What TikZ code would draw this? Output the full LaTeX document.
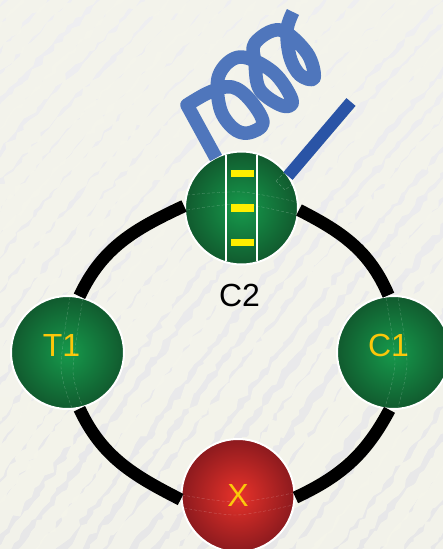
\documentclass[tikz,border=0pt]{standalone}
\usepackage{fontspec}
\setmainfont{Liberation Sans}
\usetikzlibrary{decorations.pathmorphing}
\definecolor{clothtop}{HTML}{EEEEF1}
\definecolor{clothlow}{HTML}{E7E7E8}
\definecolor{clothpale}{HTML}{F5F5EB}
\definecolor{coilblue}{HTML}{4F76BC}
\definecolor{rodblue}{HTML}{2A54A6}
\definecolor{ballgreen}{HTML}{169A4C}
\definecolor{rimgreen}{HTML}{115A2E}
\definecolor{ballred}{HTML}{E8322A}
\definecolor{rimred}{HTML}{8C1A1E}
\definecolor{labelyellow}{HTML}{FBC70A}
\definecolor{baryellow}{HTML}{FFEE00}
\tikzset{
  ball/.style={circle, draw=white, line width=2pt, minimum size=113pt, inner sep=0pt,
    inner color=ballgreen, outer color=rimgreen},
  redball/.style={ball, inner color=ballred, outer color=rimred},
  balltext/.style={text=labelyellow, font=\fontsize{32}{32}\selectfont},
  ringarc/.style={line width=12.5pt, black},
  seam/.style={white, opacity=.25, line width=.4pt, densely dashed},
  stripe/.style={white, line width=2pt},
  rung/.style={fill=baryellow, draw=none}
}
\begin{document}
\begin{tikzpicture}[x=1pt, y=-1pt]
\path[use as bounding box, clip] (0,0) rectangle (443,549);
\shade[top color=clothtop, bottom color=clothlow] (0,0) rectangle (443,549);

% woven cloth
\pgfmathsetseed{7}
\foreach \i in {0,...,42}{
  \pgfmathsetmacro{\sx}{-470+23*\i+rnd*8}
  \pgfmathsetmacro{\wd}{11+rnd*8}
  \draw[clothpale, line width=\wd pt, opacity=.85, decorate, decoration={random steps, segment length=6pt, amplitude=2.5pt}]
    (\sx,560) .. controls (\sx+110,430) and (\sx+190,270) .. (\sx+470,-10);
}

% the four balls
\node(C2) at (241.5,208)[ball]{};
\node(T1) at (67.5,352.5)[ball, label={[balltext, xshift=-6pt, yshift=7pt]center:T1}]{};
\node(C1) at (393.5,352.5)[ball, label={[balltext, xshift=-5pt, yshift=7pt]center:C1}]{};
\node(X) at (238,495.5)[redball, label={[balltext]center:X}]{};
\node(C2label) at (239.5,295)[font=\fontsize{32}{32}\selectfont]{C2};

% ring
\draw[ringarc](T1.78) to[out=65, in=205] (C2.178);
\draw[ringarc](C1.95) to[out=113, in=-27] (C2.-2);
\draw[ringarc](T1.-78) to[out=-65, in=153] (X.184);
\draw[ringarc](C1.-94) to[out=242, in=25] (X.-2);

% seams
\draw[seam] plot[smooth] coordinates {(70,297) (61,367) (72,408)};
\draw[seam] plot[smooth] coordinates {(83,298) (73,370) (83,407)};
\draw[seam] plot[smooth] coordinates {(386,298) (395,363) (385,407)};
\draw[seam] plot[smooth] coordinates {(398,298) (407,363) (398,407)};
\draw[seam] plot[smooth] coordinates {(182,495) (237,502) (293,493)};
\draw[seam] plot[smooth] coordinates {(184,508) (237,515) (293,505)};
\draw[seam] plot[smooth] coordinates {(187,195) (242,192) (297,202)};
\draw[seam] plot[smooth] coordinates {(187,210) (242,204) (297,215)};
\draw[seam] (276,181) -- (285,172) -- (295,182) -- (285,190) -- cycle;

% rungs on C2
\draw[stripe](226,155) -- (226,261);
\draw[stripe](257,155) -- (257,261);
\fill[rung](231,170) rectangle (254,177);
\fill[rung](231,204) rectangle (254,212);
\fill[rung](231,239) rectangle (254,246);

% coil and rod
\draw[coilblue, line width=13.5pt, line join=round]
  (216,158) -- (187,105) -- plot[smooth, tension=.6] coordinates {
  (187,105) (210,92) (232,87) (250,100) (263,123) (248,133) (233,128) (220,108) (219,75)
  (240,57) (273,72) (292,100) (283,106) (260,90) (255,63) (255,43) (280,30)
  (307,53) (314,78) (300,75) (290,57) (287,30) (293,12)};
\draw[rodblue, line width=12pt](288,176) -- (351,102);
\end{tikzpicture}
\end{document}
